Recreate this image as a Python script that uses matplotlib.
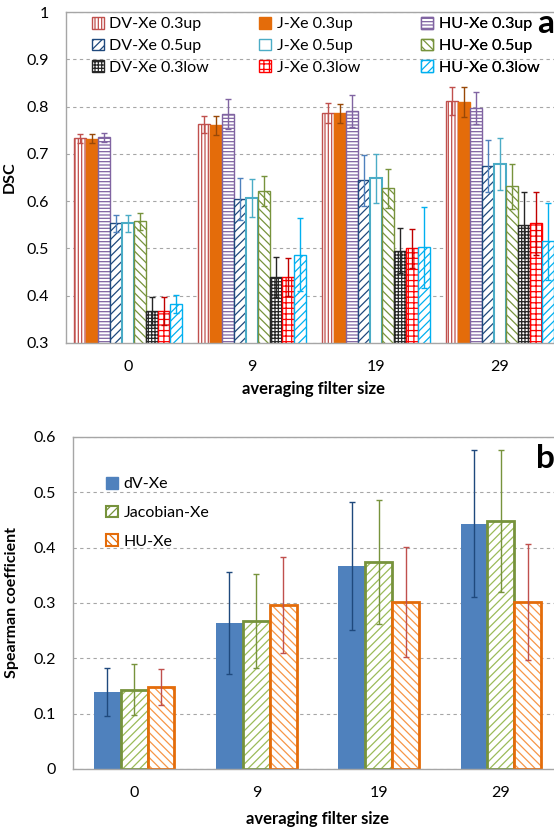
import numpy as np
import matplotlib
matplotlib.use("Agg")
import matplotlib.pyplot as plt
from matplotlib.patches import Patch

plt.rcParams['font.family'] = ['Lato', 'DejaVu Sans']
plt.rcParams['hatch.linewidth'] = 0.9

# categories (averaging filter size)
cats = ['0', '9', '19', '29']

# panel a: DSC values and errors
dv03up = [0.733, 0.763, 0.786, 0.812]
dv03up_err = [0.010, 0.018, 0.021, 0.030]
j03up = [0.732, 0.760, 0.786, 0.810]
j03up_err = [0.010, 0.020, 0.020, 0.031]
hu03up = [0.735, 0.784, 0.790, 0.797]
hu03up_err = [0.010, 0.032, 0.034, 0.034]
dv05up = [0.553, 0.604, 0.644, 0.674]
dv05up_err = [0.018, 0.044, 0.054, 0.055]
j05up = [0.553, 0.606, 0.648, 0.678]
j05up_err = [0.018, 0.040, 0.051, 0.055]
hu05up = [0.557, 0.621, 0.627, 0.631]
hu05up_err = [0.017, 0.032, 0.042, 0.047]
dv03low = [0.368, 0.440, 0.495, 0.550]
dv03low_err = [0.030, 0.042, 0.048, 0.070]
j03low = [0.368, 0.440, 0.500, 0.553]
j03low_err = [0.030, 0.040, 0.042, 0.067]
hu03low = [0.383, 0.487, 0.502, 0.515]
hu03low_err = [0.019, 0.077, 0.085, 0.082]

labels_a = ['DV-Xe 0.3up', 'DV-Xe 0.5up', 'DV-Xe 0.3low',
            'J-Xe 0.3up', 'J-Xe 0.5up', 'J-Xe 0.3low',
            'HU-Xe 0.3up', 'HU-Xe 0.5up', 'HU-Xe 0.3low']

# panel b: spearman coefficient values and errors
dv = [0.139, 0.264, 0.367, 0.443]
dv_err = [0.044, 0.092, 0.115, 0.133]
jac = [0.143, 0.268, 0.374, 0.448]
jac_err = [0.046, 0.085, 0.112, 0.128]
hu = [0.148, 0.297, 0.302, 0.302]
hu_err = [0.033, 0.087, 0.099, 0.105]

labels_b = ['dV-Xe', 'Jacobian-Xe', 'HU-Xe']

W, H = 554, 831
fig = plt.figure(figsize=(W/100, H/100), dpi=100)

spine_col = '#A6A6A6'

def style_axes(ax):
    for s in ['top', 'left', 'bottom']:
        ax.spines[s].set_color(spine_col)
        ax.spines[s].set_linewidth(1.0)
    ax.spines['right'].set_visible(False)
    ax.yaxis.grid(True, linestyle=(0, (3, 3)), color='#A6A6A6', linewidth=0.8)
    ax.set_axisbelow(True)
    ax.tick_params(axis='both', length=0, labelsize=11.5)
    ax.tick_params(axis='y', pad=12)
    ax.tick_params(axis='x', pad=12)

# ---------------- panel a ----------------
ax1 = fig.add_axes([66/W, 1-343/H, 496/W, 331/H])
style_axes(ax1)
x = np.arange(len(cats))
w = 0.0968

# (values, errors, face, hatch/edge colour, hatch, error colour) in drawing order
series_a = [
    (dv03up, dv03up_err, 'white', '#C0504D', '|||||', '#C0504D'),
    (j03up, j03up_err, '#E46C0A', '#E46C0A', None, '#984807'),
    (hu03up, hu03up_err, 'white', '#8064A2', '-----', '#8064A2'),
    (dv05up, dv05up_err, 'white', '#1F497D', '////', '#4F81BD'),
    (j05up, j05up_err, 'white', '#4BACC6', None, '#4BACC6'),
    (hu05up, hu05up_err, 'white', '#77933C', '\\\\\\\\', '#77933C'),
    (dv03low, dv03low_err, 'white', '#262626', '+++++', '#262626'),
    (j03low, j03low_err, 'white', '#FF0000', '+++', '#C00000'),
    (hu03low, hu03low_err, 'white', '#00B0F0', '////', '#00B0F0'),
]
handles_a = {}
names_draw = ['DV-Xe 0.3up', 'J-Xe 0.3up', 'HU-Xe 0.3up',
              'DV-Xe 0.5up', 'J-Xe 0.5up', 'HU-Xe 0.5up',
              'DV-Xe 0.3low', 'J-Xe 0.3low', 'HU-Xe 0.3low']
for k, (vals, errs, fc, ec, hatch, ecol) in enumerate(series_a):
    pos = x + (k - 4) * w
    lw = 1.5 if hatch is None and fc == 'white' else 1.0
    ax1.bar(pos, vals, width=w, bottom=0, color=fc, edgecolor=ec,
            hatch=hatch, linewidth=lw, zorder=2)
    ax1.errorbar(pos, vals, yerr=errs, fmt='none', ecolor=ecol,
                 elinewidth=1.0, capsize=2.5, capthick=1.0, zorder=3)
    handles_a[names_draw[k]] = Patch(facecolor=fc, edgecolor=ec, hatch=hatch, linewidth=1.0)

ax1.set_xlim(-0.5, 3.5)
ax1.set_ylim(0.3, 1.0)
ax1.set_xticks(x)
ax1.set_xticklabels(cats)
yt = np.round(np.arange(0.3, 1.01, 0.1), 1)
ax1.set_yticks(yt)
ax1.set_yticklabels(['%g' % v for v in yt])
ax1.set_ylabel('DSC', fontsize=11.5, fontweight='bold')
ax1.yaxis.set_label_coords(-0.099, 0.5)
ax1.set_xlabel('averaging filter size', fontsize=12, fontweight='bold')
ax1.xaxis.set_label_coords(0.5, -0.114)

# three legend columns placed separately
col_x = [0.052, 0.389, 0.716]
for c in range(3):
    names = labels_a[3*c:3*c+3]
    leg = ax1.legend([handles_a[n] for n in names], names, loc='upper left',
                     bbox_to_anchor=(col_x[c], 0.985), frameon=False,
                     fontsize=11.5, handlelength=0.75, handleheight=0.75,
                     handletextpad=0.35, labelspacing=0.45, borderpad=0,
                     borderaxespad=0)
    ax1.add_artist(leg)

# ---------------- panel b ----------------
ax2 = fig.add_axes([73/W, 1-769/H, 489/W, 332/H])
style_axes(ax2)
wb = 0.22

# dV-Xe: solid blue
ax2.bar(x - wb, dv, width=wb, color='#4F81BD', edgecolor='#4F81BD', linewidth=0, zorder=2)
ax2.errorbar(x - wb, dv, yerr=dv_err, fmt='none', ecolor='#1F497D',
             elinewidth=1.0, capsize=2.5, capthick=1.0, zorder=3)
# Jacobian-Xe: light green hatch, olive edge
ax2.bar(x, jac, width=wb, color='white', edgecolor='#9BBB59', hatch='////', linewidth=0, zorder=2)
ax2.bar(x, jac, width=wb, color='none', edgecolor='#77933C', linewidth=2.0, zorder=2)
ax2.errorbar(x, jac, yerr=jac_err, fmt='none', ecolor='#77933C',
             elinewidth=1.0, capsize=2.5, capthick=1.0, zorder=3)
# HU-Xe: orange back hatch, orange edge
ax2.bar(x + wb, hu, width=wb, color='white', edgecolor='#F79646', hatch='\\\\\\\\', linewidth=0, zorder=2)
ax2.bar(x + wb, hu, width=wb, color='none', edgecolor='#E46C0A', linewidth=2.0, zorder=2)
ax2.errorbar(x + wb, hu, yerr=hu_err, fmt='none', ecolor='#C0504D',
             elinewidth=1.0, capsize=2.5, capthick=1.0, zorder=3)

handles_b = [Patch(facecolor='#4F81BD', edgecolor='#4F81BD'),
             Patch(facecolor='white', edgecolor='#77933C', hatch='////', linewidth=1.5),
             Patch(facecolor='white', edgecolor='#E46C0A', hatch='\\\\\\\\', linewidth=1.5)]
ax2.legend(handles_b, labels_b, loc='upper left', bbox_to_anchor=(0.0675, 0.88),
           frameon=False, fontsize=11.5, handlelength=0.75, handleheight=0.75,
           handletextpad=0.35, labelspacing=0.9, borderpad=0, borderaxespad=0)

ax2.set_xlim(-0.5, 3.5)
ax2.set_ylim(0, 0.6)
ax2.set_xticks(x)
ax2.set_xticklabels(cats)
ytb = np.round(np.arange(0, 0.61, 0.1), 1)
ax2.set_yticks(ytb)
ax2.set_yticklabels(['%g' % v for v in ytb])
ax2.set_ylabel('Spearman coefficient', fontsize=11.5, fontweight='bold')
ax2.yaxis.set_label_coords(-0.11, 0.5)
ax2.set_xlabel('averaging filter size', fontsize=12, fontweight='bold')
ax2.xaxis.set_label_coords(0.5, -0.128)

# panel letters at the right edge
fig.text(537/W, 1-33/H, 'a', fontsize=24, fontweight='bold', ha='left', va='baseline')
fig.text(536/W, 1-468/H, 'b', fontsize=24, fontweight='bold', ha='left', va='baseline')

fig.savefig('out.png', dpi=100)
